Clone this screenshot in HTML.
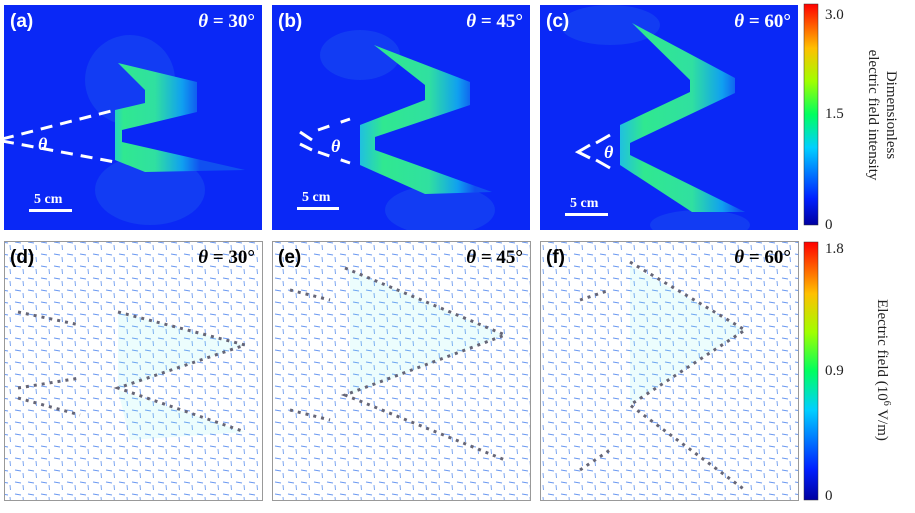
<!DOCTYPE html><html><head><style>body{margin:0;width:915px;height:508px;background:#fff;overflow:hidden;font-family:"Liberation Serif",serif}
</style></head><body>
<svg width="915" height="508" xmlns="http://www.w3.org/2000/svg">
<defs>
<clipPath id="ca"><rect x="4" y="5" width="258" height="225"/></clipPath>
<clipPath id="cb"><rect x="272" y="5" width="258" height="225"/></clipPath>
<clipPath id="cc"><rect x="540" y="5" width="258" height="225"/></clipPath>
<linearGradient id="jet" x1="0" y1="1" x2="0" y2="0">
<stop offset="0" stop-color="#0000a0"/><stop offset="0.12" stop-color="#0020ff"/><stop offset="0.35" stop-color="#00d0ff"/><stop offset="0.5" stop-color="#00ff60"/><stop offset="0.65" stop-color="#a0ff00"/><stop offset="0.8" stop-color="#ffc000"/><stop offset="1" stop-color="#ff0000"/></linearGradient>
<pattern id="fld" width="13" height="12" patternUnits="userSpaceOnUse">
<line x1="2" y1="2" x2="8" y2="3" stroke="#6a98f0" stroke-width="1"/>
<line x1="10" y1="5" x2="10.5" y2="10" stroke="#7aa4f0" stroke-width="1"/>
</pattern>
<linearGradient id="ga" gradientUnits="userSpaceOnUse" x1="110" y1="0" x2="200" y2="0"><stop offset="0" stop-color="#20c8e0"/><stop offset="0.15" stop-color="#30e890"/><stop offset="0.5" stop-color="#30e0a0"/><stop offset="0.8" stop-color="#10a0f0"/><stop offset="1" stop-color="#1050f0"/></linearGradient>
<linearGradient id="gb" gradientUnits="userSpaceOnUse" x1="360" y1="0" x2="475" y2="0"><stop offset="0" stop-color="#20c0e0"/><stop offset="0.2" stop-color="#30e890"/><stop offset="0.6" stop-color="#30e0a0"/><stop offset="0.85" stop-color="#10a0f0"/><stop offset="1" stop-color="#1050f0"/></linearGradient>
<linearGradient id="gc" gradientUnits="userSpaceOnUse" x1="620" y1="0" x2="740" y2="0"><stop offset="0" stop-color="#20c0e0"/><stop offset="0.2" stop-color="#30e890"/><stop offset="0.6" stop-color="#30e0a0"/><stop offset="0.85" stop-color="#10a0f0"/><stop offset="1" stop-color="#1050f0"/></linearGradient>
</defs>
<!-- top panels -->
<g clip-path="url(#ca)">
<rect x="4" y="5" width="258" height="225" fill="#0a28f6"/>
<ellipse cx="130" cy="80" rx="45" ry="45" fill="#1a50f0" opacity="0.5"/>
<ellipse cx="150" cy="190" rx="55" ry="35" fill="#1a50f0" opacity="0.5"/>
<polygon points="118,63 197,82 197,112 122,130 122,142 245,170 145,172 115,160 115,110 145,103 145,90" fill="url(#ga)"/>
<line x1="2" y1="139" x2="115" y2="110" stroke="#fff" stroke-width="3" stroke-dasharray="12,8"/>
<line x1="2" y1="141" x2="115" y2="162" stroke="#fff" stroke-width="3" stroke-dasharray="12,8"/>
<text x="38" y="150" fill="#fff" font-style="italic" font-weight="bold" font-size="18">θ</text>
<text x="10" y="27" fill="#fff" font-family="Liberation Sans" font-weight="bold" font-size="19">(a)</text>
<text x="255" y="27" fill="#fff" font-weight="bold" font-size="19" text-anchor="end"><tspan font-style="italic">θ</tspan> = 30°</text>
<text x="34" y="203" fill="#fff" font-weight="bold" font-size="14">5 cm</text>
<rect x="29" y="209" width="43" height="3" fill="#fff"/>
</g>
<g clip-path="url(#cb)">
<rect x="272" y="5" width="258" height="225" fill="#0a28f6"/>
<ellipse cx="360" cy="55" rx="40" ry="25" fill="#1a50f0" opacity="0.5"/>
<ellipse cx="440" cy="210" rx="55" ry="25" fill="#1a50f0" opacity="0.5"/>
<polygon points="374,45 470,82 470,105 375,137 375,150 492,192 425,194 360,165 360,125 425,100 425,85" fill="url(#gb)"/>
<line x1="300" y1="132" x2="312" y2="140" stroke="#fff" stroke-width="3"/>
<line x1="300" y1="144" x2="312" y2="150" stroke="#fff" stroke-width="3"/>
<line x1="318" y1="130" x2="350" y2="119" stroke="#fff" stroke-width="3" stroke-dasharray="12,12"/>
<line x1="318" y1="152" x2="350" y2="163" stroke="#fff" stroke-width="3" stroke-dasharray="12,12"/>
<text x="331" y="152" fill="#fff" font-style="italic" font-weight="bold" font-size="18">θ</text>
<text x="278" y="27" fill="#fff" font-family="Liberation Sans" font-weight="bold" font-size="19">(b)</text>
<text x="523" y="27" fill="#fff" font-weight="bold" font-size="19" text-anchor="end"><tspan font-style="italic">θ</tspan> = 45°</text>
<text x="302" y="201" fill="#fff" font-weight="bold" font-size="14">5 cm</text>
<rect x="297" y="207" width="42" height="3" fill="#fff"/>
</g>
<g clip-path="url(#cc)">
<rect x="540" y="5" width="258" height="225" fill="#0a28f6"/>
<ellipse cx="610" cy="25" rx="50" ry="20" fill="#1a50f0" opacity="0.5"/>
<ellipse cx="700" cy="225" rx="50" ry="15" fill="#1a50f0" opacity="0.5"/>
<polygon points="632,23 735,78 735,93 630,143 630,155 745,212 692,212 620,165 620,125 690,92 690,80" fill="url(#gc)"/>
<polyline points="590,145 578,152 590,158" fill="none" stroke="#fff" stroke-width="3"/>
<line x1="596" y1="143" x2="610" y2="135" stroke="#fff" stroke-width="3"/>
<line x1="596" y1="160" x2="610" y2="168" stroke="#fff" stroke-width="3"/>
<text x="604" y="158" fill="#fff" font-style="italic" font-weight="bold" font-size="18">θ</text>
<text x="546" y="27" fill="#fff" font-family="Liberation Sans" font-weight="bold" font-size="19">(c)</text>
<text x="791" y="27" fill="#fff" font-weight="bold" font-size="19" text-anchor="end"><tspan font-style="italic">θ</tspan> = 60°</text>
<text x="570" y="207" fill="#fff" font-weight="bold" font-size="14">5 cm</text>
<rect x="565" y="213" width="43" height="3" fill="#fff"/>
</g>
<!-- bottom panels -->
<g stroke="#999" fill="none">
<rect x="4.5" y="241.5" width="258" height="259"/>
<rect x="272.5" y="241.5" width="258" height="259"/>
<rect x="540.5" y="241.5" width="258" height="259"/>
</g>
<rect x="5" y="242" width="257" height="258" fill="url(#fld)"/>
<rect x="273" y="242" width="257" height="258" fill="url(#fld)"/>
<rect x="541" y="242" width="257" height="258" fill="url(#fld)"/>
<polygon points="118,312 245,345 118,390" fill="#80f0f0" opacity="0.15"/>
<polygon points="118,390 245,432 130,440" fill="#80f0f0" opacity="0.15"/>
<polygon points="350,270 505,335 350,395" fill="#80f0f0" opacity="0.15"/>
<polygon points="630,265 745,330 630,405" fill="#80f0f0" opacity="0.15"/>
<g stroke="#667" stroke-width="3" stroke-dasharray="3,5" fill="none">
<polyline points="118,312 245,345 118,388 245,432"/>
<polyline points="18,312 80,325"/><polyline points="18,388 80,378"/><polyline points="18,398 80,415"/>
<polyline points="345,268 505,335 345,395 505,460"/>
<polyline points="290,290 330,300"/><polyline points="290,410 330,420"/>
<polyline points="630,262 745,330 630,405 745,490"/>
<polyline points="580,300 610,290"/><polyline points="580,470 610,450"/>
</g>
<g font-weight="bold" font-size="19">
<text x="10" y="263" font-family="Liberation Sans">(d)</text>
<text x="255" y="263" text-anchor="end"><tspan font-style="italic">θ</tspan> = 30°</text>
<text x="278" y="263" font-family="Liberation Sans">(e)</text>
<text x="523" y="263" text-anchor="end"><tspan font-style="italic">θ</tspan> = 45°</text>
<text x="546" y="263" font-family="Liberation Sans">(f)</text>
<text x="791" y="263" text-anchor="end"><tspan font-style="italic">θ</tspan> = 60°</text>
</g>
<!-- colorbars -->
<rect x="804" y="4" width="14" height="221" fill="url(#jet)" stroke="#333" stroke-width="0.5"/>
<rect x="804" y="242" width="14" height="258" fill="url(#jet)" stroke="#333" stroke-width="0.5"/>
<g font-size="15" fill="#222">
<text x="825" y="19">3.0</text><text x="825" y="118">1.5</text><text x="825" y="229">0</text>
<text x="825" y="253">1.8</text><text x="825" y="375">0.9</text><text x="825" y="500">0</text>
<text transform="translate(887,115) rotate(90)" text-anchor="middle">Dimensionless</text>
<text transform="translate(869,115) rotate(90)" text-anchor="middle">electric field intensity</text>
<text transform="translate(878,370) rotate(90)" text-anchor="middle">Electric field (10<tspan font-size="10" dy="-6">6</tspan><tspan dy="6"> V/m)</tspan></text>
</g>
</svg>
</body></html>
